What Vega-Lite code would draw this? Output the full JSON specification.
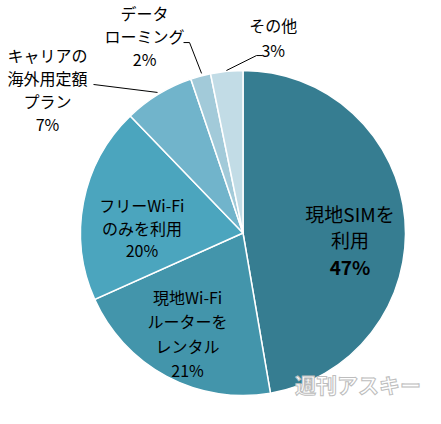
{
  "$schema": "https://vega.github.io/schema/vega-lite/v6.json",
  "width": 396,
  "height": 382,
  "padding": {"left": 45, "top": 42, "right": 0, "bottom": 0},
  "autosize": {"type": "none"},
  "background": "white",
  "config": {"view": {"stroke": null}, "text": {"font": "Noto Sans CJK JP"}},
  "datasets": {
    "shares": [
      {"rank": 1, "cat": "現地SIMを利用", "name": "現地SIMを\n利用", "pct": "47%", "label": "現地SIMを\n利用\n47%", "value": 47.3},
      {"rank": 2, "cat": "現地Wi-Fiルーターをレンタル", "name": "現地Wi-Fi\nルーターを\nレンタル", "pct": "21%", "label": "現地Wi-Fi\nルーターを\nレンタル\n21%", "value": 21.0},
      {"rank": 3, "cat": "フリーWi-Fiのみを利用", "name": "フリーWi-Fi\nのみを利用", "pct": "20%", "label": "フリーWi-Fi\nのみを利用\n20%", "value": 19.5},
      {"rank": 4, "cat": "キャリアの海外用定額プラン", "name": "キャリアの\n海外用定額\nプラン", "pct": "7%", "label": "キャリアの\n海外用定額\nプラン\n7%", "value": 7.0},
      {"rank": 5, "cat": "データローミング", "name": "データ\nローミング", "pct": "2%", "label": "データ\nローミング\n2%", "value": 2.0},
      {"rank": 6, "cat": "その他", "name": "その他", "pct": "3%", "label": "その他\n3%", "value": 3.2}
    ],
    "leaders": [
      {"g": "キャリア", "o": 1, "x": -0.92, "y": 0.914},
      {"g": "キャリア", "o": 2, "x": -0.526, "y": 0.865},
      {"g": "ローミング", "o": 1, "x": -0.366, "y": 1.172},
      {"g": "ローミング", "o": 2, "x": -0.329, "y": 1.172},
      {"g": "ローミング", "o": 3, "x": -0.255, "y": 0.982},
      {"g": "その他", "o": 1, "x": 0.12, "y": 1.092},
      {"g": "その他", "o": 2, "x": 0.083, "y": 1.092},
      {"g": "その他", "o": 3, "x": -0.102, "y": 1.0}
    ],
    "wm": [{"t": "週刊アスキー"}]
  },
  "layer": [
    {
      "data": {"name": "shares"},
      "mark": {"type": "arc", "outerRadius": 162.5, "stroke": "white", "strokeWidth": 1.5},
      "encoding": {
        "theta": {"field": "value", "type": "quantitative", "stack": true},
        "order": {"field": "rank", "type": "quantitative"},
        "color": {
          "field": "cat", "type": "nominal", "legend": null,
          "scale": {
            "domain": ["現地SIMを利用", "現地Wi-Fiルーターをレンタル", "フリーWi-Fiのみを利用", "キャリアの海外用定額プラン", "データローミング", "その他"],
            "range": ["#367D91", "#4395AB", "#4BA5BE", "#71B4CB", "#A2CAD9", "#C2DCE6"]
          }
        }
      }
    },
    {
      "data": {"name": "shares"},
      "mark": {"type": "text", "radius": 107.4, "dy": -8, "fontSize": 19, "lineHeight": 26.5, "lineBreak": "\n", "align": "center", "baseline": "middle", "color": "#000"},
      "encoding": {
        "theta": {"field": "value", "type": "quantitative", "stack": true},
        "order": {"field": "rank", "type": "quantitative"},
        "detail": {"field": "cat", "type": "nominal"},
        "text": {"condition": {"test": "datum.rank === 1", "field": "name"}, "value": ""}
      }
    },
    {
      "data": {"name": "shares"},
      "mark": {"type": "text", "radius": 107.4, "dy": 45, "fontSize": 19, "fontWeight": "bold", "align": "center", "baseline": "middle", "color": "#000"},
      "encoding": {
        "theta": {"field": "value", "type": "quantitative", "stack": true},
        "order": {"field": "rank", "type": "quantitative"},
        "detail": {"field": "cat", "type": "nominal"},
        "text": {"condition": {"test": "datum.rank === 1", "field": "pct"}, "value": ""}
      }
    },
    {
      "data": {"name": "shares"},
      "mark": {"type": "text", "radius": 117.8, "dy": -38, "fontSize": 16, "lineHeight": 24.5, "lineBreak": "\n", "align": "center", "baseline": "middle", "color": "#000"},
      "encoding": {
        "theta": {"field": "value", "type": "quantitative", "stack": true},
        "order": {"field": "rank", "type": "quantitative"},
        "detail": {"field": "cat", "type": "nominal"},
        "text": {"condition": {"test": "datum.rank === 2", "field": "label"}, "value": ""}
      }
    },
    {
      "data": {"name": "shares"},
      "mark": {"type": "text", "radius": 103, "dy": -6, "fontSize": 16, "lineHeight": 22.5, "lineBreak": "\n", "align": "center", "baseline": "middle", "color": "#000"},
      "encoding": {
        "theta": {"field": "value", "type": "quantitative", "stack": true},
        "order": {"field": "rank", "type": "quantitative"},
        "detail": {"field": "cat", "type": "nominal"},
        "text": {"condition": {"test": "datum.rank === 3", "field": "label"}, "value": ""}
      }
    },
    {
      "data": {"name": "shares"},
      "mark": {"type": "text", "radius": 162.5, "dx": -111, "dy": -37, "fontSize": 16, "lineHeight": 23, "lineBreak": "\n", "align": "center", "baseline": "middle", "color": "#000"},
      "encoding": {
        "theta": {"field": "value", "type": "quantitative", "stack": true},
        "order": {"field": "rank", "type": "quantitative"},
        "detail": {"field": "cat", "type": "nominal"},
        "text": {"condition": {"test": "datum.rank === 4", "field": "label"}, "value": ""}
      }
    },
    {
      "data": {"name": "shares"},
      "mark": {"type": "text", "radius": 162.5, "dx": -56, "dy": -61, "fontSize": 16, "lineHeight": 23, "lineBreak": "\n", "align": "center", "baseline": "middle", "color": "#000"},
      "encoding": {
        "theta": {"field": "value", "type": "quantitative", "stack": true},
        "order": {"field": "rank", "type": "quantitative"},
        "detail": {"field": "cat", "type": "nominal"},
        "text": {"condition": {"test": "datum.rank === 5", "field": "label"}, "value": ""}
      }
    },
    {
      "data": {"name": "shares"},
      "mark": {"type": "text", "radius": 162.5, "dx": 46.5, "dy": -44, "fontSize": 16, "lineHeight": 25, "lineBreak": "\n", "align": "center", "baseline": "middle", "color": "#000"},
      "encoding": {
        "theta": {"field": "value", "type": "quantitative", "stack": true},
        "order": {"field": "rank", "type": "quantitative"},
        "detail": {"field": "cat", "type": "nominal"},
        "text": {"condition": {"test": "datum.rank === 6", "field": "label"}, "value": ""}
      }
    },
    {
      "data": {"name": "leaders"},
      "mark": {"type": "line", "color": "#000", "strokeWidth": 1},
      "encoding": {
        "x": {"field": "x", "type": "quantitative", "scale": {"domain": [-1.2185, 1.2185], "nice": false, "zero": false}, "axis": null},
        "y": {"field": "y", "type": "quantitative", "scale": {"domain": [-1.1754, 1.1754], "nice": false, "zero": false}, "axis": null},
        "detail": {"field": "g", "type": "nominal"},
        "order": {"field": "o", "type": "quantitative"}
      }
    },
    {
      "data": {"name": "wm"},
      "mark": {"type": "text", "fontSize": 21, "fontWeight": "bold", "fill": "white", "stroke": "#bdbdbd", "strokeWidth": 1, "align": "center", "baseline": "middle"},
      "encoding": {
        "x": {"datum": 0.708, "type": "quantitative"},
        "y": {"datum": -0.945, "type": "quantitative"},
        "text": {"field": "t", "type": "nominal"}
      }
    }
  ]
}
